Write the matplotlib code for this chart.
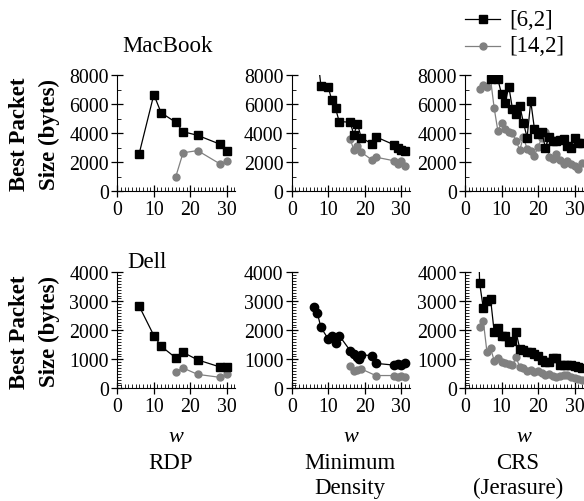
import numpy as np
import matplotlib
matplotlib.use('Agg')
import matplotlib.pyplot as plt
from matplotlib.ticker import MultipleLocator

plt.rcParams['font.family'] = ['Liberation Serif', 'DejaVu Serif']
plt.rcParams['font.size'] = 14.3

# ---- data (w, best packet size in bytes) ----
# MacBook, RDP
mac_rdp_w62 = [6, 10, 12, 16, 18, 22, 28, 30]
mac_rdp_62 = [2600, 6650, 5400, 4750, 4100, 3850, 3250, 2800]
mac_rdp_w142 = [16, 18, 22, 28, 30]
mac_rdp_142 = [1000, 2650, 2800, 1900, 2050]

# MacBook, Minimum Density
mac_md_w62 = [7, 8, 10, 11, 12, 13, 16, 17, 18, 19, 22, 23, 28, 29, 30, 31]
mac_md_62 = [9500, 7250, 7150, 6250, 5700, 4800, 4750, 3900, 4650, 3700,
             3250, 3750, 3200, 2950, 2850, 2750]
mac_md_w142 = [16, 17, 18, 19, 22, 23, 28, 29, 30, 31]
mac_md_142 = [3600, 2850, 3100, 2700, 2150, 2350, 2100, 1900, 2100, 1750]

# MacBook, CRS (Jerasure)
mac_crs_w62 = list(range(6, 33))
mac_crs_62 = [9000, 7750, 7850, 7700, 6700, 6100, 7200, 5650, 5300, 5900,
              4700, 3700, 6200, 4300, 3950, 4100, 3000, 3750, 3450, 3450,
              3500, 3600, 3150, 2950, 3650, 3350, 3350]
mac_crs_w142 = list(range(4, 33))
mac_crs_142 = [7050, 7300, 7150, 7700, 5700, 4150, 4700, 4300, 4050, 4000,
               3450, 2850, 3750, 2900, 2750, 2450, 3050, 3650, 4100, 2350,
               2250, 2600, 2150, 1900, 2050, 1900, 1750, 1550, 1950]

# Dell, RDP
dell_rdp_w62 = [6, 10, 12, 16, 18, 22, 28, 30]
dell_rdp_62 = [2830, 1820, 1450, 1050, 1240, 980, 740, 740]
dell_rdp_w142 = [16, 18, 22, 28, 30]
dell_rdp_142 = [575, 700, 480, 380, 480]

# Dell, Minimum Density
dell_md_w62 = [6, 7, 8, 10, 11, 12, 13, 16, 17, 18, 18.5, 19, 22, 23, 28, 29, 30, 31]
dell_md_62 = [2800, 2600, 2100, 1700, 1820, 1570, 1820, 1300, 1180, 1070,
              1000, 1150, 1130, 860, 800, 840, 800, 860]
dell_md_w142 = [16, 17, 18, 19, 23, 28, 29, 30, 31]
dell_md_142 = [760, 590, 630, 670, 440, 440, 400, 410, 400]

# Dell, CRS (Jerasure)
dell_crs_w62 = list(range(3, 33))
dell_crs_62 = [9000, 3630, 2770, 3000, 3080, 1930, 2070, 1820, 1790, 1610,
               1620, 1930, 1360, 1320, 1260, 1240, 1180, 1100, 990, 920,
               920, 1050, 1050, 800, 800, 800, 800, 760, 720, 700]
dell_crs_w142 = list(range(4, 33))
dell_crs_142 = [2100, 2330, 1260, 1380, 950, 1030, 920, 870, 840, 800,
                1070, 720, 690, 610, 640, 570, 610, 520, 460, 490,
                440, 380, 440, 460, 460, 400, 340, 320, 300]

W, H = 584, 502
fig = plt.figure(figsize=(W / 100, H / 100), dpi=100)

col_x = [117.3, 291.7, 465.0]
ax_w = 118.0
row_y = [(76.0, 192.3), (273.3, 389.3)]
xmax = 32.3


def make_ax(col, row):
    left = col_x[col]
    top, bottom = row_y[row]
    ax = fig.add_axes([left / W, 1 - bottom / H, ax_w / W, (bottom - top) / H])
    for s in ['top', 'right']:
        ax.spines[s].set_visible(False)
    ax.set_xlim(0, xmax)
    ax.xaxis.set_major_locator(MultipleLocator(10))
    ax.xaxis.set_minor_locator(MultipleLocator(1))
    if row == 0:
        ax.set_ylim(0, 8000)
        ax.yaxis.set_major_locator(MultipleLocator(2000))
        ax.yaxis.set_minor_locator(MultipleLocator(1000))
    else:
        ax.set_ylim(0, 4000)
        ax.yaxis.set_major_locator(MultipleLocator(1000))
        ax.yaxis.set_minor_locator(MultipleLocator(100))
    ax.tick_params(which='major', direction='inout', length=8, width=0.9, pad=2)
    ax.tick_params(which='minor', direction='in', length=3, width=0.6)
    return ax


sq = dict(color='black', marker='s', markersize=6, linewidth=0.9)
sq_c = dict(color='black', marker='o', markersize=6, linewidth=0.9)
ci = dict(color='#808080', marker='o', markersize=5, linewidth=0.9)

panels = [
    (0, 0, mac_rdp_w62, mac_rdp_62, mac_rdp_w142, mac_rdp_142, sq),
    (1, 0, mac_md_w62, mac_md_62, mac_md_w142, mac_md_142, sq),
    (2, 0, mac_crs_w62, mac_crs_62, mac_crs_w142, mac_crs_142, sq),
    (0, 1, dell_rdp_w62, dell_rdp_62, dell_rdp_w142, dell_rdp_142, sq),
    (1, 1, dell_md_w62, dell_md_62, dell_md_w142, dell_md_142, sq_c),
    (2, 1, dell_crs_w62, dell_crs_62, dell_crs_w142, dell_crs_142, sq),
]

for col, row, x1, y1, x2, y2, st in panels:
    ax = make_ax(col, row)
    ax.plot(x2, y2, **ci)
    ax.plot(x1, y1, **st)
    if row == 1:
        ax.set_xlabel('w', style='italic', labelpad=8, fontsize=16)

# labels
fig.text(168 / W, 1 - 46 / H, 'MacBook', ha='center', va='center', fontsize=16.5)
fig.text(147 / W, 1 - 262 / H, 'Dell', ha='center', va='center', fontsize=16.5)
for yc in [134, 332]:
    fig.text(34.5 / W, 1 - yc / H, 'Best Packet\nSize (bytes)', rotation=90,
             ha='center', va='center', fontweight='bold', fontsize=16.5,
             linespacing=1.5)

fig.text(171 / W, 1 - 464 / H, 'RDP', ha='center', va='center', fontsize=16.5)
fig.text(350 / W, 1 - 476 / H, 'Minimum\nDensity', ha='center', va='center',
         fontsize=16.5, linespacing=1.2)
fig.text(518 / W, 1 - 476 / H, 'CRS\n(Jerasure)', ha='center', va='center',
         fontsize=16.5, linespacing=1.2)

# legend
lx0, lx1 = 465, 500
for yy, st, lab in [(20, sq, '[6,2]'), (46.7, ci, '[14,2]')]:
    fig.add_artist(plt.Line2D([lx0 / W, lx1 / W], [1 - yy / H, 1 - yy / H],
                              color=st['color'], linewidth=0.9))
    fig.add_artist(plt.Line2D([(lx0 + lx1) / 2 / W], [1 - yy / H],
                              color=st['color'], marker=st['marker'],
                              markersize=st['markersize'], linestyle='none'))
    fig.text(509 / W, 1 - yy / H, lab, ha='left', va='center', fontsize=16.5)

fig.savefig('out.png', dpi=100)
